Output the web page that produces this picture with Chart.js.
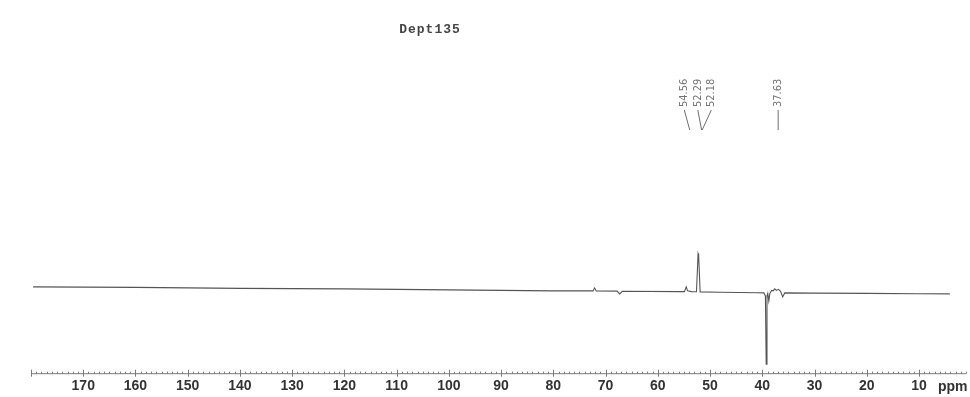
<!DOCTYPE html>
<html>
<head>
<meta charset="utf-8">
<title>Dept135</title>
<script src="https://cdn.jsdelivr.net/npm/chart.js@4.4.1/dist/chart.umd.min.js"></script>
<style>
  html, body { margin: 0; padding: 0; background: #ffffff; }
  #wrap { position: relative; width: 970px; height: 397px; }
</style>
</head>
<body>
<div id="wrap"><canvas id="spec"></canvas></div>
<script>
// DEPT-135 trace: chemical shift (ppm) and signal intensity (arbitrary units)
const shiftPpm = [179.6, 160, 140, 120, 100, 80, 72.4, 72.1, 71.8, 67.8, 67.3, 66.8,
  56, 54.9, 54.56, 54.3, 53.6, 52.6, 52.29, 52.18, 51.9, 48, 41,
  39.7, 39.4, 39.25, 39.1, 38.95, 38.75, 38.55, 38.2, 37.9, 37.63, 37.3, 36.9, 36.5,
  36.1, 35.7, 30, 20, 10, 4.1];
const intensity = [5, 4.5, 3.5, 3, 2, 1, 1, 4, 1, 0.8, -2, 0.6,
  0.3, 0.3, 5, 1, 0.3, 0.2, 38, 36, 0, -0.3, -0.8,
  -1, -4, -72, -4, -1.5, -9, -1.5, 1.5, 1, 3, 1.5, 2.5, 0.5,
  -5, -1, -1.2, -1.5, -1.8, -2];

// Annotated peaks (ppm)
const peakLabels = [54.56, 52.29, 52.18, 37.63];

// Labelled ticks on the shift axis
const tickLabels = [170, 160, 150, 140, 130, 120, 110, 100, 90, 80, 70, 60, 50, 40, 30, 20, 10];

const points = shiftPpm.map((p, i) => ({ x: p, y: intensity[i] }));

const paperPlugin = {
  id: 'paper',
  beforeDraw(chart) {
    const ctx = chart.ctx;
    ctx.save();
    ctx.fillStyle = '#ffffff';
    ctx.fillRect(0, 0, chart.width, chart.height);
    ctx.restore();
  }
};

// Axis rule with minor (1 ppm) and major (10 ppm) ticks, plus the unit
const axisPlugin = {
  id: 'ppmAxis',
  afterDraw(chart) {
    const xs = chart.scales.x;
    const ctx = chart.ctx;
    const y0 = chart.chartArea.bottom - 0.5;
    ctx.save();
    ctx.strokeStyle = '#7a7a7a';
    ctx.lineWidth = 1;
    ctx.beginPath();
    ctx.moveTo(xs.left, y0);
    ctx.lineTo(xs.right, y0);
    for (let v = Math.ceil(xs.min); v <= Math.floor(xs.max); v++) {
      const px = Math.round(xs.getPixelForValue(v)) + 0.5;
      if (v % 10 === 0) {
        ctx.moveTo(px, y0 - 4);
        ctx.lineTo(px, y0 + 3);
      } else {
        ctx.moveTo(px, y0 - 2);
        ctx.lineTo(px, y0);
      }
    }
    ctx.stroke();
    ctx.fillStyle = '#333333';
    ctx.font = 'bold 14px "Liberation Sans", Arial, sans-serif';
    ctx.textAlign = 'left';
    ctx.textBaseline = 'middle';
    ctx.fillText('ppm', xs.getPixelForValue(10) + 19, y0 + 13);
    ctx.restore();
  }
};

// Rotated shift labels with leader lines down to their peaks
const peakLabelPlugin = {
  id: 'peakLabels',
  afterDraw(chart) {
    const xs = chart.scales.x;
    const ctx = chart.ctx;
    const spacing = 13.5, shift = 3.5;
    const textBase = 107, leadTop = 110, leadBottom = 130;
    const px = peakLabels.map(v => xs.getPixelForValue(v));
    // group labels that would collide and fan them out evenly
    const groups = [];
    px.forEach((p, i) => {
      const g = groups[groups.length - 1];
      if (g && p - px[g[g.length - 1]] < spacing) g.push(i); else groups.push([i]);
    });
    const lx = new Array(px.length);
    groups.forEach(g => {
      const mean = g.reduce((s, i) => s + px[i], 0) / g.length;
      g.forEach((i, k) => { lx[i] = mean + (k - (g.length - 1) / 2) * spacing + shift; });
    });
    ctx.save();
    ctx.strokeStyle = '#6f6f6f';
    ctx.lineWidth = 1;
    ctx.fillStyle = '#747474';
    ctx.font = '11px "Liberation Sans Narrow", "DejaVu Sans Condensed", sans-serif';
    peakLabels.forEach((v, i) => {
      ctx.beginPath();
      ctx.moveTo(lx[i], leadTop);
      ctx.lineTo(px[i] + shift, leadBottom);
      ctx.stroke();
      ctx.save();
      ctx.translate(lx[i], textBase);
      ctx.rotate(-Math.PI / 2);
      ctx.textAlign = 'left';
      ctx.textBaseline = 'middle';
      ctx.fillText(v.toFixed(2), 0, 0);
      ctx.restore();
    });
    ctx.restore();
  }
};

const titlePlugin = {
  id: 'specTitle',
  afterDraw(chart) {
    const ctx = chart.ctx;
    ctx.save();
    ctx.fillStyle = '#454545';
    ctx.font = 'bold 13px "Liberation Mono", "DejaVu Sans Mono", monospace';
    if ('letterSpacing' in ctx) ctx.letterSpacing = '1px';
    ctx.textAlign = 'center';
    ctx.textBaseline = 'middle';
    ctx.fillText('Dept135', 430, 30);
    ctx.restore();
  }
};

new Chart(document.getElementById('spec'), {
  type: 'line',
  data: {
    datasets: [{
      data: points,
      borderColor: '#555555',
      borderWidth: 1.1,
      pointRadius: 0,
      tension: 0,
      fill: false
    }]
  },
  options: {
    responsive: true,
    maintainAspectRatio: false,
    animation: false,
    events: [],
    layout: { padding: { left: 31, right: 4, top: 60, bottom: -2 } },
    plugins: {
      legend: { display: false },
      tooltip: { enabled: false },
      title: { display: false }
    },
    scales: {
      x: {
        type: 'linear',
        reverse: true,
        min: 1,
        max: 180,
        afterBuildTicks(scale) { scale.ticks = tickLabels.map(v => ({ value: v })); },
        grid: { display: false, drawTicks: false },
        border: { display: false },
        ticks: {
          autoSkip: false,
          maxRotation: 0,
          minRotation: 0,
          padding: 4,
          color: '#333333',
          font: { family: '"Liberation Sans", Arial, sans-serif', size: 14, weight: 'bold' }
        }
      },
      y: {
        display: false,
        min: -82,
        max: 231
      }
    }
  },
  plugins: [paperPlugin, axisPlugin, peakLabelPlugin, titlePlugin]
});
</script>
</body>
</html>
